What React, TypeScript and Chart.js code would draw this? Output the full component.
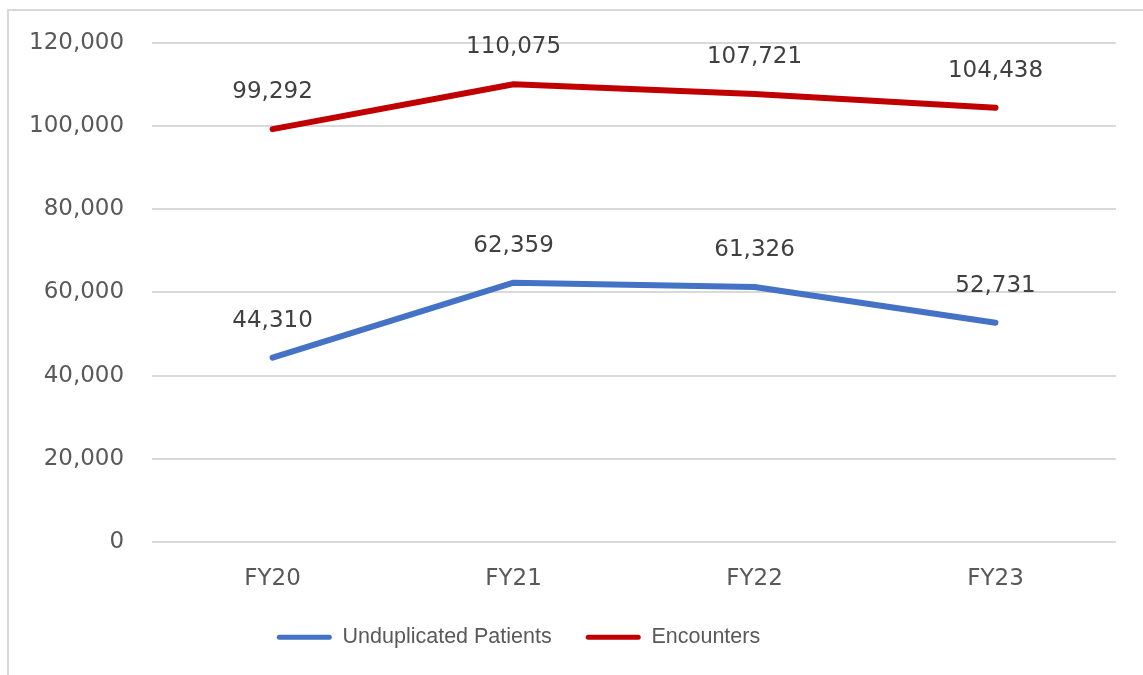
import React, { useEffect, useRef } from "react";
import { Chart, registerables } from "chart.js";

Chart.register(...registerables);

const categories = ["FY20", "FY21", "FY22", "FY23"];
const patients = [44310, 62359, 61326, 52731];
const encounters = [99292, 110075, 107721, 104438];
const yTicks = [0, 20000, 40000, 60000, 80000, 100000, 120000];

const FONT = "'DejaVu Sans', 'Liberation Sans', sans-serif";

const dataLabels = {
  id: "dataLabels",
  afterDatasetsDraw(chart: any) {
    const ctx = chart.ctx;
    ctx.save();
    ctx.font = `23px ${FONT}`;
    ctx.fillStyle = "#404040";
    ctx.textAlign = "center";
    ctx.textBaseline = "middle";
    chart.data.datasets.forEach((ds: any, i: number) => {
      const meta = chart.getDatasetMeta(i);
      meta.data.forEach((pt: any, j: number) => {
        const v = ds.data[j] as number;
        ctx.fillText(v.toLocaleString("en-US"), pt.x, pt.y - 37);
      });
    });
    ctx.restore();
  },
};

const legendShift = {
  id: "legendShift",
  afterLayout(chart: any) {
    const lg = chart.legend;
    if (!lg) return;
    lg.top -= 23;
    lg.bottom -= 23;
    lg.left -= 40;
    lg.right -= 40;
  },
};

export default function App() {
  const ref = useRef<HTMLCanvasElement | null>(null);
  useEffect(() => {
    if (!ref.current) return;
    const chart = new Chart(ref.current, {
      type: "line",
      data: {
        labels: categories,
        datasets: [
          {
            label: "Unduplicated Patients",
            data: patients,
            borderColor: "#4472C4",
            backgroundColor: "#4472C4",
            borderWidth: 6,
            borderCapStyle: "round",
            borderJoinStyle: "round",
            pointRadius: 0,
            tension: 0,
          },
          {
            label: "Encounters",
            data: encounters,
            borderColor: "#C00000",
            backgroundColor: "#C00000",
            borderWidth: 6,
            borderCapStyle: "round",
            borderJoinStyle: "round",
            pointRadius: 0,
            tension: 0,
          },
        ],
      },
      options: {
        animation: false,
        responsive: true,
        maintainAspectRatio: false,
        layout: { padding: { left: 1, right: 27, top: 43, bottom: -6 } },
        scales: {
          x: {
            offset: true,
            grid: { display: false, drawTicks: false },
            border: { display: false },
            ticks: { color: "#595959", font: { family: FONT, size: 23 }, padding: 23 },
          },
          y: {
            min: 0,
            max: 120000,
            afterBuildTicks: (axis: any) => {
              axis.ticks = yTicks.map((v) => ({ value: v }));
            },
            grid: { color: "#D9D9D9", lineWidth: 2, drawTicks: false },
            border: { display: false },
            ticks: {
              color: "#595959",
              font: { family: FONT, size: 23 },
              padding: 28,
              callback: (v: any) => Number(v).toLocaleString("en-US"),
            },
          },
        },
        plugins: {
          tooltip: { enabled: false },
          legend: {
            position: "bottom",
            labels: {
              color: "#595959",
              font: { family: "'Liberation Sans', sans-serif", size: 21.5 },
              boxWidth: 55,
              boxHeight: 5,
              padding: 34,
              useBorderRadius: true,
              borderRadius: 2.5,
              generateLabels: (c: any) =>
                c.data.datasets.map((ds: any, i: number) => ({
                  text: ds.label,
                  fillStyle: ds.borderColor,
                  strokeStyle: ds.borderColor,
                  lineWidth: 0,
                  fontColor: "#595959",
                  datasetIndex: i,
                  hidden: false,
                  borderRadius: 2.5,
                })),
            },
          },
        },
      },
      plugins: [dataLabels, legendShift],
    });
    return () => chart.destroy();
  }, []);

  return (
    <div style={{ position: "fixed", left: 0, top: 0, width: 1143, height: 675, background: "#fff", overflow: "hidden" }}>
      <div
        style={{
          position: "absolute",
          left: 7,
          top: 9,
          width: 1200,
          height: 700,
          borderLeft: "2px solid #D9D9D9",
          borderTop: "2px solid #D9D9D9",
        }}
      />
      <div style={{ position: "absolute", left: 0, top: 0, width: 1143, height: 675 }}>
        <canvas ref={ref} />
      </div>
    </div>
  );
}
